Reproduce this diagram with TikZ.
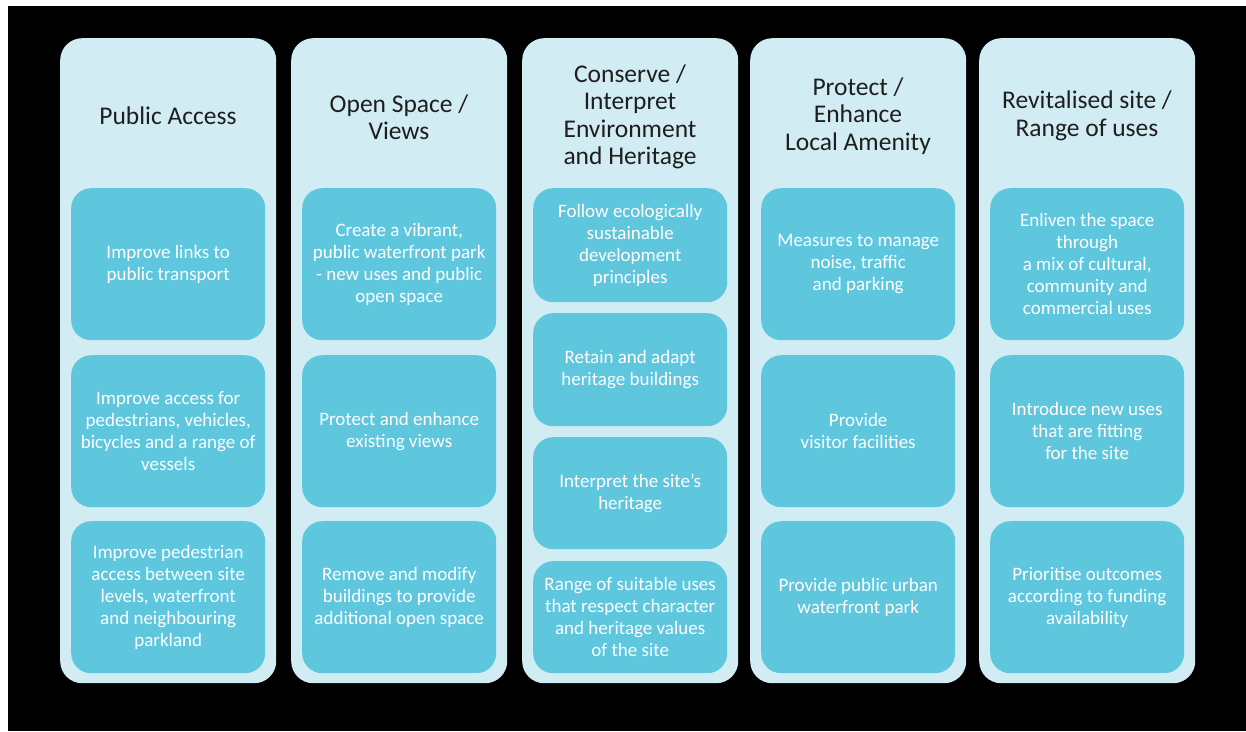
\documentclass[tikz,border=0pt]{standalone}
\usepackage{fontspec}
\setmainfont{Carlito}
\definecolor{outerc}{HTML}{D2ECF3}
\definecolor{innerc}{HTML}{5EC6DD}
\definecolor{headc}{HTML}{1E1E1E}
\begin{document}
\begin{tikzpicture}[x=1pt,y=-1pt,
  colbox/.style={fill=outerc, rounded corners=22pt, minimum width=216pt, minimum height=645pt, inner sep=0pt, anchor=north west},
  head/.style={text=headc, align=center, font=\fontsize{25.5}{27.5}\selectfont, inner sep=0pt},
  cell/.style={fill=innerc, rounded corners=20pt, minimum width=194pt, inner sep=0pt, anchor=north west, text=white, align=center, font=\fontsize{19}{22}\selectfont},
  big/.style={cell, minimum height=152pt},
  small/.style={cell, minimum height=113pt}]
\fill[white] (0,0) rectangle (1246,731);
\fill[black] (8,6) rectangle (1246,731);
\useasboundingbox (0,0) rectangle (1246,731);
% columns
\node[colbox] (c1) at (60,38) {};
\node[colbox] (c2) at (291,38) {};
\node[colbox] (c3) at (522,38) {};
\node[colbox] (c4) at (750,38) {};
\node[colbox] (c5) at (979,38) {};
% headers
\node[head] (h1) at (168,116) {Public Access};
\node[head] (h2) at (399,117) {Open Space /\\Views};
\node[head] (h3) at (630,117) {Conserve /\\Interpret\\Environment\\and Heritage};
\node[head] (h4) at (858,116) {Protect /\\Enhance\\Local Amenity};
\node[head] (h5) at (1087,116) {Revitalised site /\\Range of uses};
% column 1
\node[big] (a1) at (71,188) {Improve links to\\public transport};
\node[big] (a2) at (71,355) {Improve access for\\pedestrians, vehicles,\\bicycles and a range of\\vessels};
\node[big] (a3) at (71,521) {Improve pedestrian\\access between site\\levels, waterfront\\and neighbouring\\parkland};
% column 2
\node[big] (b1) at (302,188) {Create a vibrant,\\public waterfront park\\- new uses and public\\open space};
\node[big] (b2) at (302,355) {Protect and enhance\\existing views};
\node[big] (b3) at (302,521) {Remove and modify\\buildings to provide\\additional open space};
% column 3
\node[small, minimum height=114pt] (d1) at (533,188) {Follow ecologically\\sustainable\\development\\principles};
\node[small] (d2) at (533,313) {Retain and adapt\\heritage buildings};
\node[small, minimum height=112pt] (d3) at (533,437) {Interpret the site’s\\heritage};
\node[small, minimum height=112pt] (d4) at (533,561) {Range of suitable uses\\that respect character\\and heritage values\\of the site};
% column 4
\node[big] (e1) at (761,188) {Measures to manage\\noise, traffic\\and parking};
\node[big] (e2) at (761,355) {Provide\\visitor facilities};
\node[big] (e3) at (761,521) {Provide public urban\\waterfront park};
% column 5
\node[big] (f1) at (990,188) {Enliven the space\\through\\a mix of cultural,\\community and\\commercial uses};
\node[big] (f2) at (990,355) {Introduce new uses\\that are fitting\\for the site};
\node[big] (f3) at (990,521) {Prioritise outcomes\\according to funding\\availability};
\end{tikzpicture}
\end{document}
